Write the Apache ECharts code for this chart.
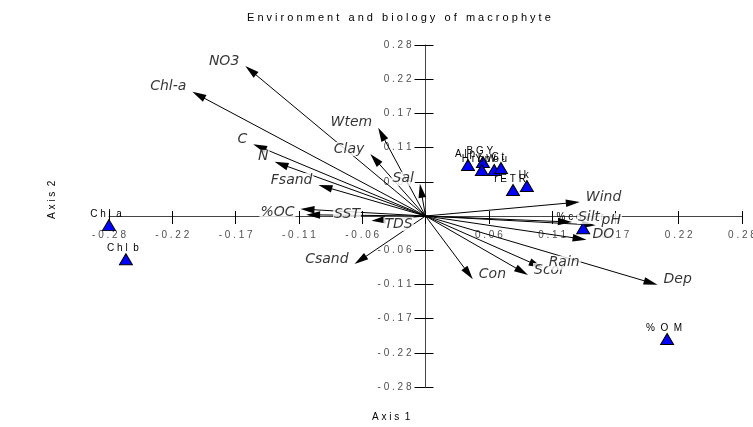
<!DOCTYPE html>
<html>
<head>
<meta charset="utf-8">
<script src="https://cdn.jsdelivr.net/npm/echarts@6/dist/echarts.min.js"></script>
<style>
  html, body { margin: 0; padding: 0; background: #fff; }
  #chart { width: 753px; height: 427px; }
</style>
</head>
<body>
<div id="chart"></div>
<script>
// environmental vectors (arrow tips, axis 1 / axis 2 scores)
const envNames = ['NO3', 'Chl-a', 'Wtem', 'Clay', 'C', 'N', 'Fsand', 'Sal', '%OC', 'SST', 'TDS', 'Csand',
  'Wind', 'Silt', 'pH', 'DO', 'Scor', 'Rain', 'Con', 'Dep'];
const envX = [-0.160, -0.207, -0.042, -0.049, -0.153, -0.134, -0.095, -0.005, -0.111, -0.106, -0.048, -0.063,
  0.137, 0.130, 0.151, 0.143, 0.091, 0.104, 0.042, 0.206];
const envY = [0.2465, 0.204, 0.145, 0.102, 0.118, 0.089, 0.051, 0.053, 0.0115, 0.002, -0.008, -0.079,
  0.023, -0.010, -0.015, -0.039, -0.097, -0.085, -0.104, -0.113];

// biology points (triangles)
const spNames = ['Chl a', 'Chl b', '% O M', '%cover', 'Alp', 'BGY', 'HrbW', 'Ypou', 'Ct', 'rETR', 'lk'];
const spX = [-0.281, -0.266, 0.2145, 0.140, 0.0377, 0.051, 0.050, 0.061, 0.067, 0.0777, 0.090];
const spY = [-0.015, -0.071, -0.202, -0.020, 0.0838, 0.0887, 0.0756, 0.0756, 0.0789, 0.0427, 0.0493];

const tickLabels = ['-0.28', '-0.22', '-0.17', '-0.11', '-0.06', '', '0.06', '0.11', '0.17', '0.22', '0.28'];
const step = 0.0562;

// label placement tweaks: [side, gap, dy]
const labelTweak = { SST: ['right', 27, 0], TDS: ['right', 12, 3], '%OC': ['left', 5, 3] };

const spaced = s => s.split(' ').map(w => w.split('').join(' ')).join('  ');

const chart = echarts.init(document.getElementById('chart'));

const envData = envNames.map((n, i) => [envX[i], envY[i], n]);
const envLabelData = envNames.map((n, i) => {
  const t = labelTweak[n] || [envX[i] > 0 ? 'right' : 'left', 5, -5];
  return {
    value: [envX[i], envY[i], n],
    label: { position: t[0], distance: t[1], offset: [0, t[2]] }
  };
});
const spData = spNames.map((n, i) => [spX[i], spY[i], n]);
const xTickData = tickLabels.map((l, i) => [(i - 5) * step, 0, l]).filter(d => d[2]);
const yTickData = tickLabels.map((l, i) => [0, (i - 5) * step, l]).filter(d => d[2]);

const tickFont = { fontFamily: 'Liberation Sans', fontSize: 10, color: '#222' };

const axisBase = {
  type: 'value',
  min: -5 * step,
  max: 5 * step,
  interval: step,
  splitLine: { show: false },
  axisLabel: { show: false },
  axisLine: { onZero: true, lineStyle: { color: '#444', width: 1 } }
};

chart.setOption({
  animation: false,
  backgroundColor: '#fff',
  title: {
    text: spaced('Environment and biology of macrophyte').replace(/  /g, '   '),
    left: 242,
    top: 7,
    textStyle: { fontFamily: 'Liberation Sans', fontSize: 11, fontWeight: 'normal', color: '#000' }
  },
  grid: { left: 109, right: 11, top: 45, bottom: 40 },
  xAxis: [
    Object.assign({}, axisBase, {
      position: 'bottom',
      axisTick: { inside: false, length: 8, lineStyle: { color: '#000' } }
    }),
    Object.assign({}, axisBase, {
      position: 'top',
      axisLine: { show: false, onZero: true },
      axisTick: { inside: false, length: 5, lineStyle: { color: '#000' } }
    })
  ],
  yAxis: [
    Object.assign({}, axisBase, {
      position: 'left',
      axisTick: { inside: false, length: 11, lineStyle: { color: '#000' } }
    }),
    Object.assign({}, axisBase, {
      position: 'right',
      axisLine: { show: false, onZero: true },
      axisTick: { inside: false, length: 8, lineStyle: { color: '#000' } }
    })
  ],
  graphic: [
    {
      type: 'text', left: 372, top: 412,
      style: { text: spaced('Axis 1'), fontFamily: 'Liberation Sans', fontSize: 10, fill: '#000' }
    },
    {
      type: 'text', x: 47, y: 219, rotation: Math.PI / 2,
      style: { text: spaced('Axis 2'), fontFamily: 'Liberation Sans', fontSize: 10, fill: '#000' }
    }
  ],
  series: [
    {
      name: 'x ticks',
      type: 'scatter',
      symbolSize: 0,
      silent: true,
      z: 1,
      label: Object.assign({ show: true, position: 'bottom', distance: 14, formatter: p => spaced(p.value[2]) }, tickFont),
      data: xTickData
    },
    {
      name: 'y ticks',
      type: 'scatter',
      symbolSize: 0,
      silent: true,
      z: 1,
      label: Object.assign({ show: true, position: 'left', distance: 14, formatter: p => spaced(p.value[2]) }, tickFont),
      data: yTickData
    },
    {
      name: 'vectors',
      type: 'custom',
      z: 3,
      data: envData,
      renderItem: function (params, api) {
        const o = api.coord([0, 0]);
        const t = api.coord([api.value(0), api.value(1)]);
        const dx = t[0] - o[0], dy = t[1] - o[1];
        const len = Math.sqrt(dx * dx + dy * dy);
        const ux = dx / len, uy = dy / len;
        const hl = 14, hw = 3.8;
        const bx = t[0] - ux * hl, by = t[1] - uy * hl;
        return {
          type: 'group',
          children: [
            { type: 'line', shape: { x1: o[0], y1: o[1], x2: bx + ux * 2, y2: by + uy * 2 },
              style: { stroke: '#000', lineWidth: 1 } },
            { type: 'polygon', shape: { points: [t, [bx - uy * hw, by + ux * hw], [bx + uy * hw, by - ux * hw]] },
              style: { fill: '#000' } }
          ]
        };
      }
    },
    {
      name: 'biology',
      type: 'scatter',
      z: 4,
      symbol: 'triangle',
      symbolSize: [13, 11],
      itemStyle: { color: '#0000ff', borderColor: '#000', borderWidth: 1, opacity: 1 },
      label: {
        show: true,
        position: 'top',
        distance: 0,
        offset: [-3, 0],
        formatter: p => spaced(p.value[2]),
        fontFamily: 'Liberation Sans',
        fontSize: 10,
        color: '#000'
      },
      data: spData
    },
    {
      name: 'vector labels',
      type: 'scatter',
      z: 6,
      symbolSize: 0,
      label: {
        show: true,
        formatter: p => p.value[2],
        fontFamily: 'DejaVu Sans',
        fontStyle: 'italic',
        fontSize: 14,
        color: '#000',
        backgroundColor: '#fff',
        padding: [0, 1]
      },
      data: envLabelData
    }
  ]
});
</script>
</body>
</html>
